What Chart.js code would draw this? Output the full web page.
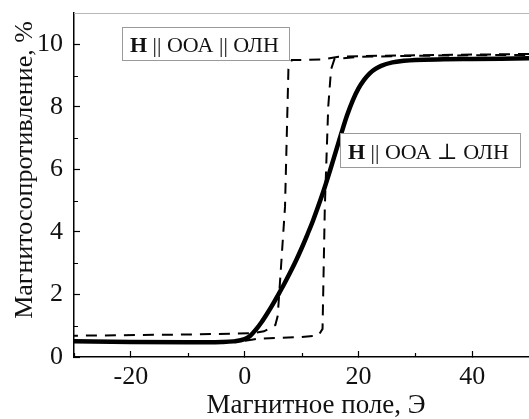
<!DOCTYPE html>
<html>
<head>
<meta charset="utf-8">
<script src="https://cdn.jsdelivr.net/npm/chart.js@4.4.1/dist/chart.umd.min.js"></script>
<style>
  html, body { margin: 0; padding: 0; background: #fff; overflow: hidden; }
  #wrap { width: 529px; height: 419px; }
</style>
</head>
<body>
<div id="wrap"><canvas id="grafico" width="529" height="419"></canvas></div>
<script>
// сплошная кривая: H || ООА ⊥ ОЛН
const solidX = [-30, -20, -10, -4, -2, 0, 1, 2, 3, 4, 5, 6, 7, 8, 9, 10, 11, 12, 13, 14, 15, 16, 17, 18, 19, 20, 21, 22, 23, 24, 26, 28, 30, 35, 40, 50];
const solidY = [0.5, 0.48, 0.47, 0.48, 0.5, 0.57, 0.68, 0.88, 1.12, 1.4, 1.7, 2.02, 2.35, 2.7, 3.07, 3.47, 3.9, 4.35, 4.85, 5.38, 5.95, 6.55, 7.15, 7.72, 8.2, 8.58, 8.86, 9.07, 9.21, 9.31, 9.42, 9.47, 9.5, 9.52, 9.53, 9.55];

// пунктир: H || ООА || ОЛН, ветвь при уменьшении поля
const downX = [50, 40, 30, 20, 16.5, 14, 10, 8.3, 7.7, 7.1, 6.0, 5.8, 5.4, 3.4, 1.5, -10, -30];
const downY = [9.69, 9.67, 9.65, 9.62, 9.6, 9.52, 9.5, 9.5, 9.2, 4.8, 1.8, 1.3, 1.02, 0.82, 0.76, 0.72, 0.68];

// пунктир: ветвь при увеличении поля
const upX = [-30, -5, 0, 1.5, 2.5, 6, 10, 12.7, 13.0, 13.7, 14.1, 14.7, 15.2, 15.8, 20, 30, 40, 50];
const upY = [0.5, 0.5, 0.52, 0.56, 0.59, 0.61, 0.64, 0.68, 0.69, 0.9, 4.8, 8.0, 9.2, 9.53, 9.6, 9.63, 9.65, 9.66];

const xTicks = [-20, 0, 20, 40];
const xMinor = [-30, -10, 10, 30];
const yTicks = [0, 2, 4, 6, 8, 10];
const yMinor = [1, 3, 5, 7, 9];

const xTitle = 'Магнитное поле, Э';
const yTitle = 'Магнитосопротивление, %';
const label1 = ['H', ' || ООА || ОЛН'];
const label2 = ['H', ' || ООА ⊥ ОЛН'];

const SERIF = '"Liberation Serif", "Times New Roman", "DejaVu Serif", serif';

const pares = (xs, ys) => xs.map((x, i) => ({ x: x, y: ys[i] }));

function caja(ctx, x, y, w, h, partes, tx, ty) {
  ctx.save();
  ctx.fillStyle = '#fff';
  ctx.fillRect(x, y, w, h);
  ctx.strokeStyle = '#9a9a9a';
  ctx.lineWidth = 1;
  ctx.strokeRect(x + 0.5, y + 0.5, w, h);
  ctx.fillStyle = '#111';
  ctx.textBaseline = 'alphabetic';
  ctx.textAlign = 'left';
  ctx.font = 'bold 22px ' + SERIF;
  ctx.fillText(partes[0], tx, ty);
  const w0 = ctx.measureText(partes[0]).width;
  ctx.font = '22px ' + SERIF;
  ctx.fillText(partes[1], tx + w0, ty);
  ctx.restore();
}

const extras = {
  id: 'extras',
  afterDraw(chart) {
    const { ctx, chartArea: a, scales: { x, y } } = chart;
    ctx.save();
    // верхняя рамка
    ctx.strokeStyle = '#b8b8b8';
    ctx.lineWidth = 1;
    ctx.beginPath();
    ctx.moveTo(a.left, a.top + 0.5);
    ctx.lineTo(a.right, a.top + 0.5);
    ctx.stroke();
    // малые деления
    ctx.strokeStyle = '#000';
    ctx.lineWidth = 1.2;
    ctx.beginPath();
    xMinor.forEach(v => {
      const px = Math.round(x.getPixelForValue(v)) + 0.5;
      ctx.moveTo(px, a.bottom);
      ctx.lineTo(px, a.bottom - 4);
    });
    yMinor.forEach(v => {
      const py = Math.round(y.getPixelForValue(v)) + 0.5;
      ctx.moveTo(a.left, py);
      ctx.lineTo(a.left + 4, py);
    });
    ctx.stroke();
    // подписи осей
    ctx.fillStyle = '#111';
    ctx.font = '27px ' + SERIF;
    ctx.textAlign = 'center';
    ctx.textBaseline = 'alphabetic';
    ctx.fillText(xTitle, 316, 413);
    ctx.translate(32, 170);
    ctx.rotate(-Math.PI / 2);
    ctx.font = '26px ' + SERIF;
    ctx.fillText(yTitle, 0, 0);
    ctx.restore();

    caja(ctx, 122, 27, 167, 33, label1, 130, 52);
    caja(ctx, 340, 133, 180, 34, label2, 348, 159);
  }
};

new Chart(document.getElementById('grafico').getContext('2d'), {
  type: 'line',
  data: {
    datasets: [
      {
        label: 'H || ООА ⊥ ОЛН',
        data: pares(solidX, solidY),
        borderColor: '#000',
        borderWidth: 4.5,
        cubicInterpolationMode: 'monotone',
        pointRadius: 0,
        fill: false
      },
      {
        label: 'H || ООА || ОЛН (спад)',
        data: pares(downX, downY),
        borderColor: '#000',
        borderWidth: 2,
        borderDash: [11, 8],
        tension: 0,
        pointRadius: 0,
        fill: false
      },
      {
        label: 'H || ООА || ОЛН (рост)',
        data: pares(upX, upY),
        borderColor: '#000',
        borderWidth: 2,
        borderDash: [11, 8],
        tension: 0,
        pointRadius: 0,
        fill: false
      }
    ]
  },
  options: {
    responsive: false,
    animation: false,
    layout: { padding: { top: 13, right: 0, left: 0, bottom: 0 } },
    plugins: { legend: { display: false }, tooltip: { enabled: false } },
    scales: {
      x: {
        type: 'linear',
        min: -30,
        max: 50,
        afterBuildTicks: s => { s.ticks = xTicks.map(v => ({ value: v })); },
        afterFit: s => { s.height = 62; s.paddingLeft = 0; s.paddingRight = 0; },
        border: { display: true, color: '#000', width: 1.5 },
        grid: { drawOnChartArea: false, drawTicks: true, tickLength: -6, tickColor: '#000', tickWidth: 1.2 },
        ticks: { color: '#111', font: { family: SERIF, size: 26 }, padding: 11, maxRotation: 0, autoSkip: false }
      },
      y: {
        type: 'linear',
        min: 0,
        max: 11,
        afterBuildTicks: s => { s.ticks = yTicks.map(v => ({ value: v })); },
        afterFit: s => { s.width = 74; s.paddingTop = 0; s.paddingBottom = 0; },
        border: { display: true, color: '#000', width: 1.5 },
        grid: { drawOnChartArea: false, drawTicks: true, tickLength: -6, tickColor: '#000', tickWidth: 1.2 },
        ticks: { color: '#111', font: { family: SERIF, size: 26 }, padding: 17, autoSkip: false }
      }
    }
  },
  plugins: [extras]
});
</script>
</body>
</html>
